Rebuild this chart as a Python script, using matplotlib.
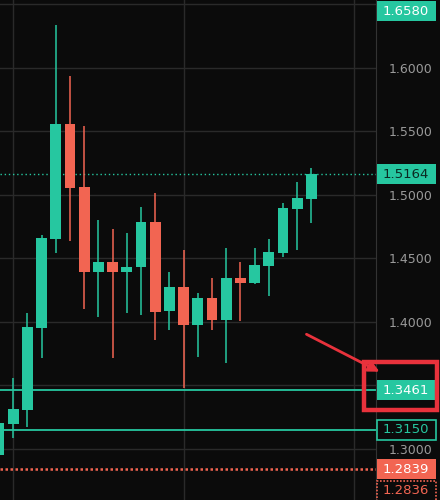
import numpy as np
import matplotlib
matplotlib.use('Agg')
import matplotlib.pyplot as plt
from matplotlib.patches import Rectangle

# candle data (oldest to newest)
opens  = [1.2953, 1.3197, 1.3307, 1.3953, 1.4654, 1.5559, 1.5063, 1.4394, 1.4472, 1.4394, 1.4433, 1.4787,
          1.4087, 1.4276, 1.3976, 1.4189, 1.4016, 1.4346, 1.4307, 1.4441, 1.4543, 1.4890, 1.4969]
highs  = [1.3250, 1.3559, 1.4071, 1.4685, 1.6339, 1.5937, 1.5543, 1.4803, 1.4732, 1.4701, 1.4906, 1.5016,
          1.4394, 1.4567, 1.4228, 1.4346, 1.4583, 1.4472, 1.4583, 1.4654, 1.4937, 1.5102, 1.5213]
lows   = [1.2900, 1.3087, 1.3173, 1.3717, 1.4543, 1.4638, 1.4102, 1.4039, 1.3717, 1.4071, 1.4055, 1.3858,
          1.3937, 1.3480, 1.3724, 1.3937, 1.3677, 1.4008, 1.4300, 1.4205, 1.4512, 1.4567, 1.4780]
closes = [1.3205, 1.3315, 1.3961, 1.4661, 1.5559, 1.5055, 1.4394, 1.4472, 1.4394, 1.4433, 1.4787, 1.4079,
          1.4276, 1.3976, 1.4189, 1.4016, 1.4346, 1.4307, 1.4449, 1.4551, 1.4898, 1.4976, 1.5164]

yticks = [1.30, 1.35, 1.40, 1.45, 1.50, 1.55, 1.60, 1.65]
high_mark = 1.6580
last_price = 1.5164
level_a = 1.3461
level_b = 1.3150
level_red = 1.2839
level_red2 = 1.2836

BG = '#0b0b0b'
GREEN = '#26c7a0'
RED = '#f26552'
GRID = '#2a2a2a'
TXT = '#9a9a9a'

def main():
	fig = plt.figure(figsize=(4.4, 5.0), dpi=100, facecolor=BG)
	ax = fig.add_axes([0, 0, 376 / 440, 1], facecolor=BG)

	x = np.arange(len(opens))
	for i in x:
		up = closes[i] >= opens[i]
		c = GREEN if up else RED
		ax.vlines(i, lows[i], highs[i], color=c, lw=1.1, zorder=3)
		lo = min(opens[i], closes[i])
		h = max(abs(closes[i] - opens[i]), 0.0006)
		ax.add_patch(Rectangle((i - 0.38, lo), 0.76, h, facecolor=c, edgecolor='none', zorder=4))

	ax.set_xlim(0.07, 26.55)
	ax.set_ylim(1.2598, 1.6535)

	# grid
	ax.set_yticks(yticks)
	ax.set_xticks([1, 13, 25])
	ax.grid(True, color=GRID, lw=1)
	ax.set_axisbelow(True)
	ax.tick_params(axis='x', length=0, labelbottom=False)
	ax.yaxis.tick_right()
	ax.tick_params(axis='y', length=0, colors=TXT, labelsize=9, pad=9)
	ax.set_yticklabels(['%.4f' % t if t < 1.62 else '' for t in yticks])
	for s in ['top', 'left', 'bottom']:
		ax.spines[s].set_visible(False)
	ax.spines['right'].set_color('#333333')

	# levels
	ax.axhline(last_price, color=GREEN, lw=1, ls=(0, (1, 2)), zorder=2)
	ax.axhline(level_a, color=GREEN, lw=1.3, zorder=2)
	ax.axhline(level_b, color=GREEN, lw=1.3, zorder=2)
	ax.axhline(level_red, color=RED, lw=1.8, ls=(0, (1, 1)), zorder=2)

	# price labels on the axis
	trans = ax.get_yaxis_transform()
	bw = 59 / 376
	bh = 0.0158

	def tag(y, text, fc, tc, ec='none', ls='-'):
		ax.add_patch(Rectangle((1.0015, y - bh / 2), bw, bh, transform=trans, facecolor=fc,
			edgecolor=ec, lw=1.2, ls=ls, clip_on=False, zorder=10))
		ax.text(1.0015 + bw / 2, y, text, transform=trans, ha='center', va='center',
			color=tc, fontsize=9.5, clip_on=False, zorder=11)

	tag(1.6448, '%.4f' % high_mark, GREEN, 'white')
	tag(last_price, '%.4f' % last_price, GREEN, '#0b2a22')
	tag(level_a, '%.4f' % level_a, GREEN, 'white')
	tag(level_b, '%.4f' % level_b, BG, GREEN, ec=GREEN)
	tag(level_red, '%.4f' % level_red, RED, 'white')
	tag(1.2669, '%.4f' % level_red2, BG, RED, ec=RED, ls=(0, (1, 1)))

	# red annotation box and arrow
	fig.patches.append(Rectangle((364, 90), 73, 48, transform=None, fill=False,
		edgecolor='#e8323c', lw=3.2, zorder=20))
	ax.annotate('', xy=(382, 127), xytext=(304, 167), xycoords='figure pixels',
		textcoords='figure pixels', annotation_clip=False,
		arrowprops=dict(arrowstyle='-|>', color='#e8323c', lw=2, mutation_scale=16), zorder=20)

	plt.savefig('out.png', dpi=100, facecolor=BG)

if __name__ == '__main__':
	main()
